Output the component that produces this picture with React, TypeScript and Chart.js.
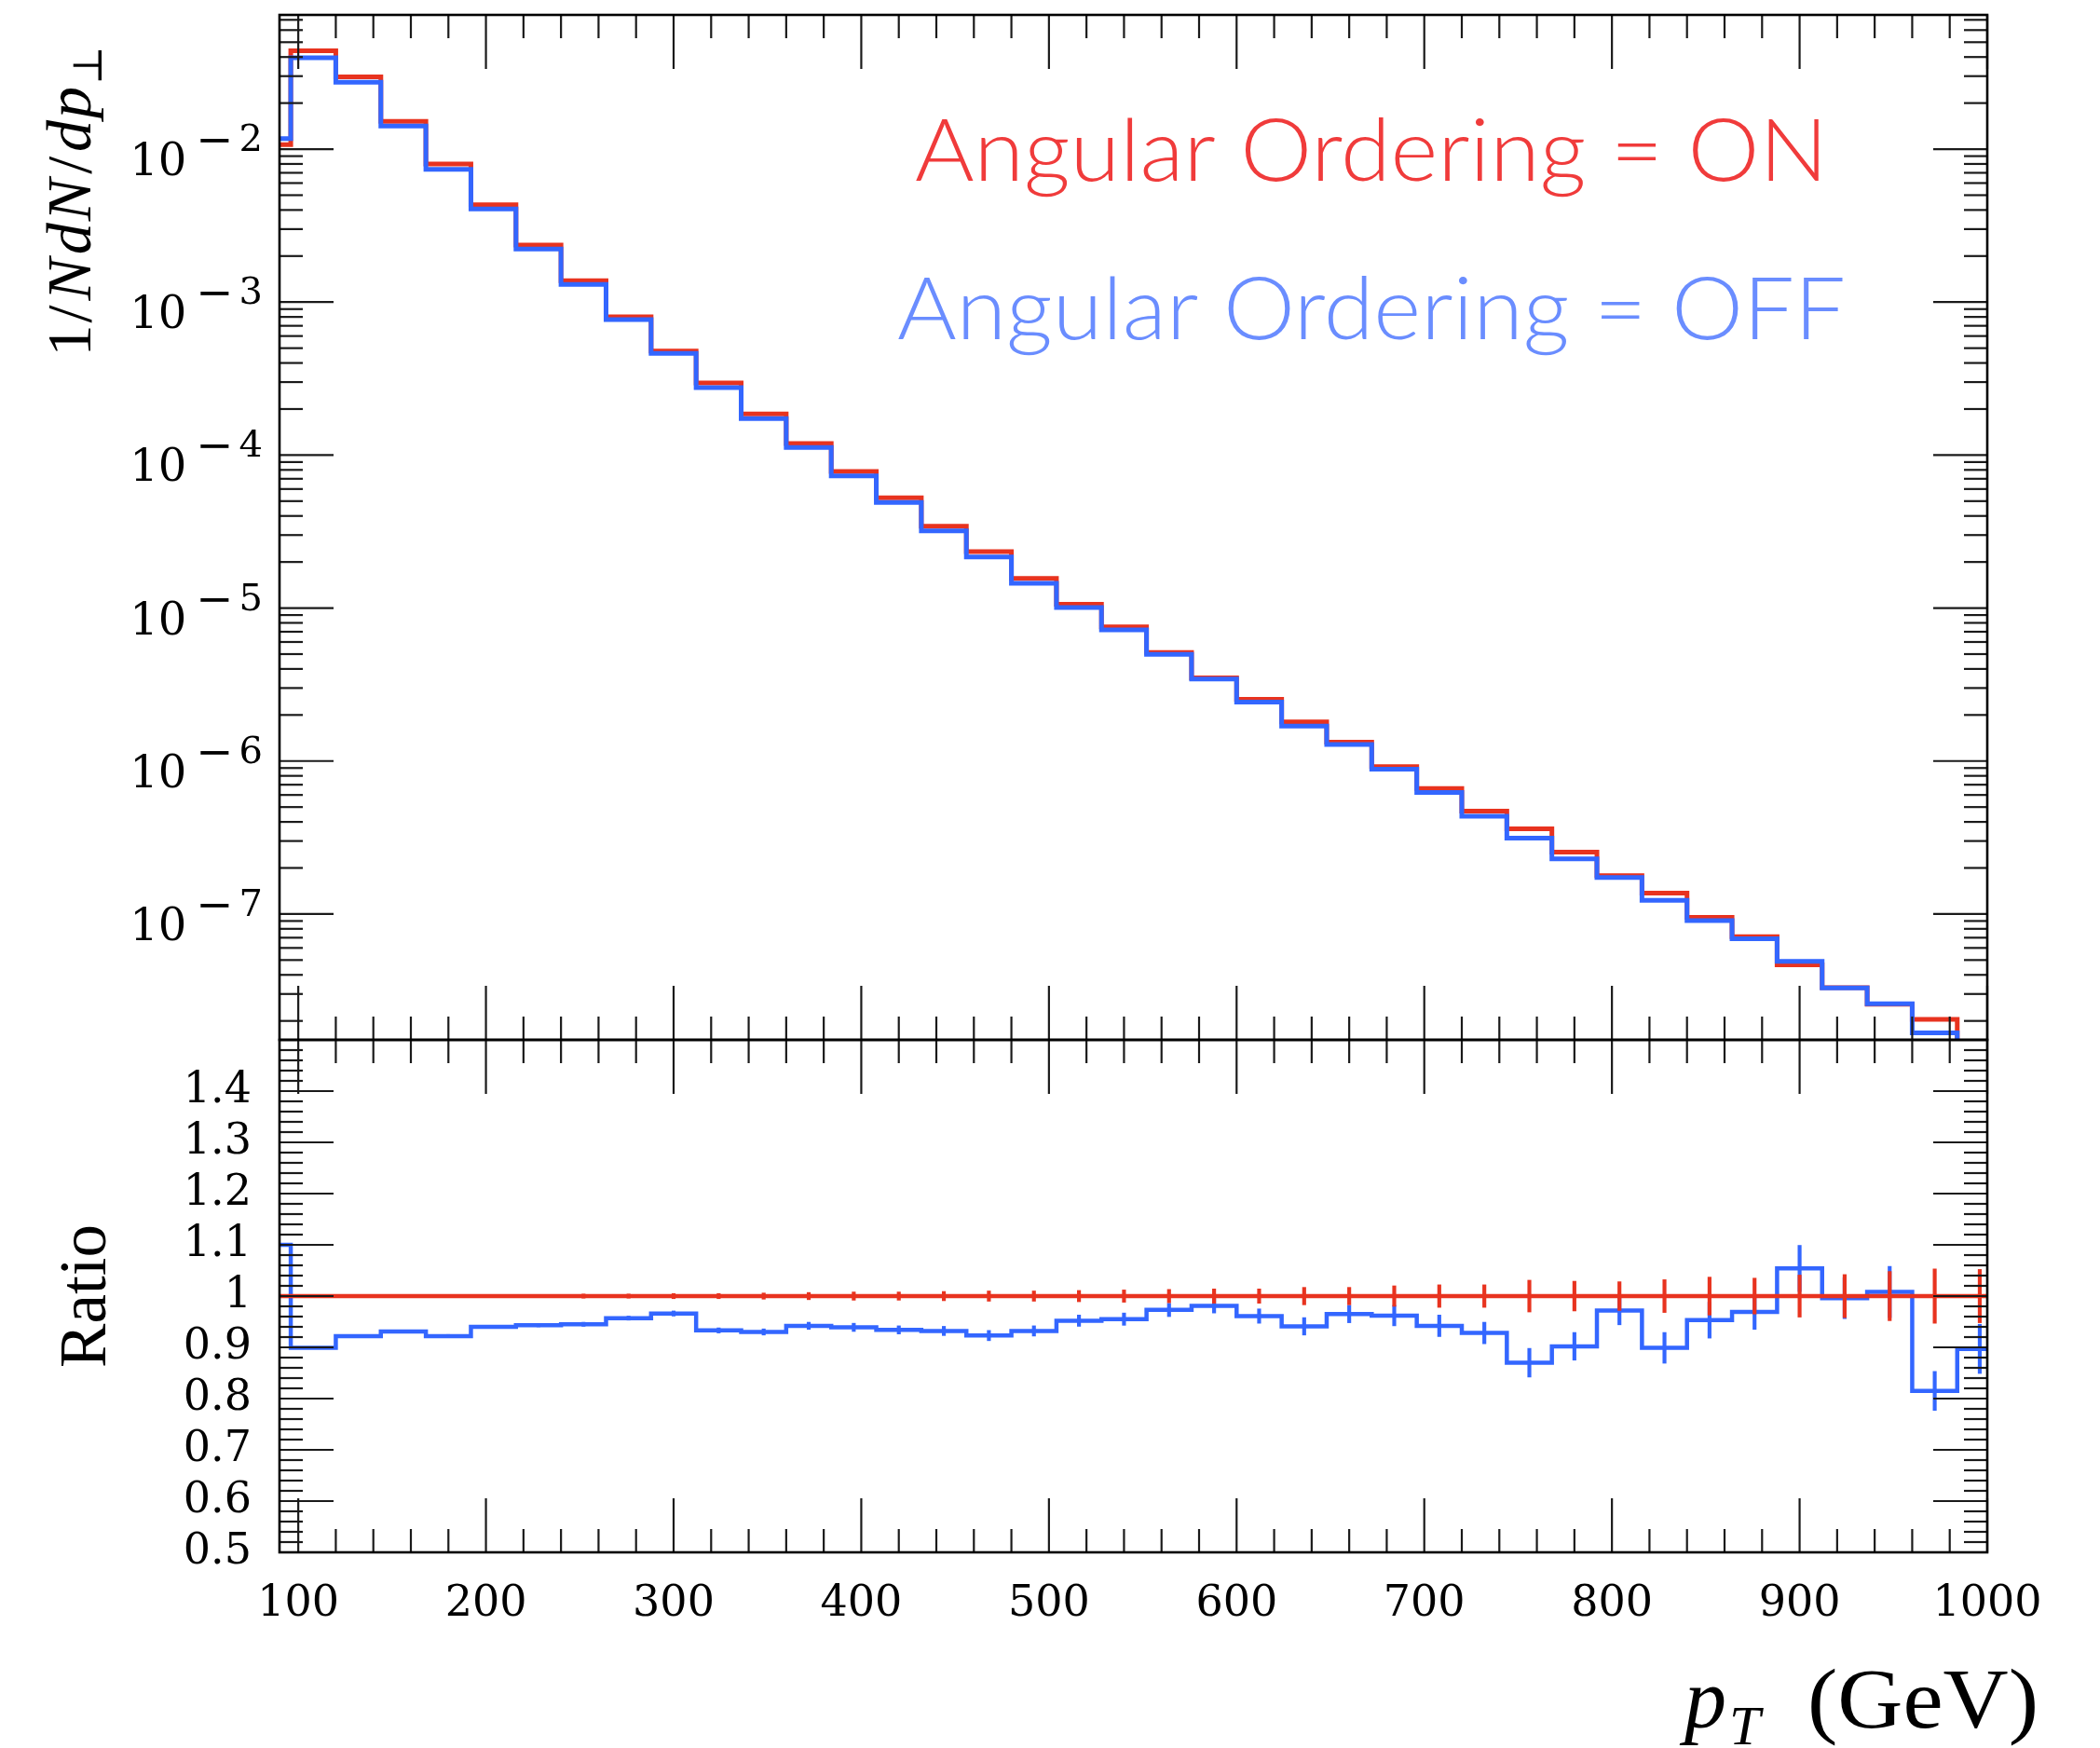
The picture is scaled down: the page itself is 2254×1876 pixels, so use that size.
import React, { useEffect, useRef } from "react";
import { Chart, registerables } from "chart.js";

Chart.register(...registerables);

// ---------------- data ----------------
const binEdges = [
  72, 96, 120, 144, 168, 192, 216, 240, 264, 288, 312, 336, 360, 384, 408, 432, 456, 480, 504, 528,
  552, 576, 600, 624, 648, 672, 696, 720, 744, 768, 792, 816, 840, 864, 888, 912, 936, 960, 984, 1008,
];

// 1/N dN/dp_T, angular ordering ON (red)
const onValues = [
  0.0107, 0.044, 0.0297, 0.0152, 0.008, 0.00433, 0.00236, 0.00138, 0.000802, 0.000478,
  0.000296, 0.000186, 0.000119, 7.8e-5, 5.25e-5, 3.43e-5, 2.34e-5, 1.56e-5, 1.06e-5, 7.53e-6,
  5.13e-6, 3.5e-6, 2.53e-6, 1.8e-6, 1.33e-6, 9.2e-7, 6.6e-7, 4.7e-7, 3.6e-7, 2.54e-7,
  1.78e-7, 1.37e-7, 9.5e-8, 7.1e-8, 4.65e-8, 3.3e-8, 2.57e-8, 2.05e-8, 1.2e-8,
];

// 1/N dN/dp_T, angular ordering OFF (blue)
const offValues = [
  0.0117, 0.0396, 0.0274, 0.01415, 0.00738, 0.00407, 0.002225, 0.001304, 0.000768, 0.000462,
  0.000276, 0.000173, 0.000112, 7.32e-5, 4.9e-5, 3.2e-5, 2.16e-5, 1.454e-5, 1.009e-5, 7.19e-6,
  4.99e-6, 3.43e-6, 2.43e-6, 1.694e-6, 1.283e-6, 8.85e-7, 6.22e-7, 4.36e-7, 3.13e-7, 2.29e-7,
  1.73e-7, 1.23e-7, 9.05e-8, 6.88e-8, 4.9e-8, 3.29e-8, 2.59e-8, 1.67e-8, 1.08e-8,
];

// ratio panel
const ratioOn = [
  1, 1, 1, 1, 1, 1, 1, 1, 1, 1, 1, 1, 1, 1, 1, 1, 1, 1, 1, 1,
  1, 1, 1, 1, 1, 1, 1, 1, 1, 1, 1, 1, 1, 1, 1, 1, 1, 1, 1,
];
const ratioOnErr = [
  0.001, 0.002, 0.002, 0.002, 0.003, 0.003, 0.003, 0.004, 0.004, 0.005,
  0.005, 0.006, 0.007, 0.008, 0.008, 0.009, 0.01, 0.01, 0.011, 0.012,
  0.013, 0.014, 0.014, 0.017, 0.017, 0.02, 0.022, 0.022, 0.031, 0.029,
  0.028, 0.032, 0.037, 0.035, 0.041, 0.042, 0.048, 0.053, 0.052,
];
const ratioOff = [
  1.1, 0.899, 0.922, 0.931, 0.922, 0.94, 0.943, 0.945, 0.957, 0.966,
  0.933, 0.93, 0.942, 0.939, 0.934, 0.932, 0.923, 0.932, 0.952, 0.955,
  0.973, 0.981, 0.961, 0.941, 0.965, 0.962, 0.942, 0.928, 0.87, 0.902,
  0.972, 0.899, 0.953, 0.969, 1.054, 0.996, 1.008, 0.815, 0.897,
];
const ratioOffErr = [
  0.002, 0.002, 0.002, 0.002, 0.003, 0.003, 0.003, 0.004, 0.004, 0.005,
  0.005, 0.006, 0.007, 0.008, 0.008, 0.009, 0.01, 0.01, 0.011, 0.012,
  0.013, 0.014, 0.014, 0.017, 0.017, 0.02, 0.021, 0.021, 0.028, 0.027,
  0.028, 0.03, 0.035, 0.034, 0.045, 0.04, 0.05, 0.038, 0.048,
];

// ticks / labels
const xMajorTicks = [100, 200, 300, 400, 500, 600, 700, 800, 900, 1000];
const xTickLabels = ["100", "200", "300", "400", "500", "600", "700", "800", "900", "1000"];
const xMinorStep = 20;
const yDecadeExponents = [-2, -3, -4, -5, -6, -7];
const ratioMajorTicks = [0.5, 0.6, 0.7, 0.8, 0.9, 1.0, 1.1, 1.2, 1.3, 1.4];
const ratioTickLabels = ["0.5", "0.6", "0.7", "0.8", "0.9", "1", "1.1", "1.2", "1.3", "1.4"];
const ratioMinorStep = 0.02;

const legendOn = "Angular Ordering = ON";
const legendOff = "Angular Ordering = OFF";

// ---------------- style / layout ----------------
const W = 2254;
const H = 1876;
const PLOT_LEFT = 300;
const PLOT_RIGHT = 2133;
const MAIN_TOP = 16;
const SPLIT = 1116;
const RATIO_BOTTOM = 1666;
const MAIN_H = 1130;
const RATIO_TOP = 1100;
const RATIO_H = H - RATIO_TOP;

const RED = "#e8331f";
const BLUE = "#3366ff";
const RED_TEXT = "#f03b3b";
const BLUE_TEXT = "#6a8dff";
const TICK_FONT = "46px 'DejaVu Serif'";
const SERIF = "'Liberation Serif', 'Times New Roman', serif";

function stepPoints(vals: number[]) {
  const pts = vals.map((v, i) => ({ x: binEdges[i], y: v }));
  pts.push({ x: binEdges[vals.length], y: vals[vals.length - 1] });
  return pts;
}

function errorBars(vals: number[], errs: number[]) {
  return vals.map((v, i) => ({
    x: (binEdges[i] + binEdges[i + 1]) / 2,
    y: [v - errs[i], v + errs[i]],
  }));
}

function seg(ctx: CanvasRenderingContext2D, x1: number, y1: number, x2: number, y2: number) {
  ctx.beginPath();
  ctx.moveTo(x1, y1);
  ctx.lineTo(x2, y2);
  ctx.stroke();
}

const MAJ = 58;
const MIN = 25;

function drawXTicks(chart: any) {
  const ctx = chart.ctx as CanvasRenderingContext2D;
  const { top, bottom } = chart.chartArea;
  const xs = chart.scales.x;
  for (let v = xMajorTicks[0]; v <= xMajorTicks[xMajorTicks.length - 1] + 0.001; v += xMinorStep) {
    const major = xMajorTicks.some((m) => Math.abs(m - v) < 0.001);
    const px = xs.getPixelForValue(v);
    const L = major ? MAJ : MIN;
    seg(ctx, px, bottom, px, bottom - L);
    seg(ctx, px, top, px, top + L);
  }
}

function drawFrame(chart: any) {
  const ctx = chart.ctx as CanvasRenderingContext2D;
  const { left, right, top, bottom } = chart.chartArea;
  ctx.lineWidth = 2.6;
  ctx.strokeStyle = "#000";
  ctx.strokeRect(left, top, right - left, bottom - top);
}

type Piece = { t: string; font: string; dy?: number; gap?: number };

function piecesWidth(ctx: CanvasRenderingContext2D, pieces: Piece[]) {
  let w = 0;
  for (const p of pieces) {
    ctx.font = p.font;
    w += ctx.measureText(p.t).width + (p.gap || 0);
  }
  return w;
}

function drawPieces(ctx: CanvasRenderingContext2D, pieces: Piece[], x0: number, y0: number) {
  let x = x0;
  for (const p of pieces) {
    ctx.font = p.font;
    ctx.fillText(p.t, x, y0 + (p.dy || 0));
    x += ctx.measureText(p.t).width + (p.gap || 0);
  }
}

function drawFitted(ctx: CanvasRenderingContext2D, text: string, font: string, x: number, y: number, width: number) {
  ctx.save();
  ctx.font = font;
  const w = ctx.measureText(text).width;
  ctx.translate(x, y);
  ctx.scale(width / w, 1);
  ctx.textAlign = "left";
  ctx.textBaseline = "alphabetic";
  ctx.fillText(text, 0, 0);
  ctx.restore();
}

const mainDecor = {
  id: "mainDecor",
  afterDatasetsDraw(chart: any) {
    const ctx = chart.ctx as CanvasRenderingContext2D;
    const { left, right } = chart.chartArea;
    const ys = chart.scales.y;
    ctx.save();
    ctx.strokeStyle = "#1a1a1a";
    ctx.lineWidth = 2.2;
    drawXTicks(chart);
    for (let e = -9; e <= 0; e++) {
      for (let k = 1; k <= 9; k++) {
        const v = k * Math.pow(10, e);
        if (v < ys.min || v > ys.max) continue;
        const py = ys.getPixelForValue(v);
        const L = k === 1 ? MAJ : MIN;
        seg(ctx, left, py, left + L, py);
        seg(ctx, right, py, right - L, py);
      }
    }
    drawFrame(chart);

    // y tick labels: 10^{-n}
    ctx.fillStyle = "#000";
    ctx.textAlign = "left";
    ctx.textBaseline = "alphabetic";
    const supFont = "40px 'DejaVu Serif'";
    const minusFont = "48px 'DejaVu Serif'";
    for (const e of yDecadeExponents) {
      const py = ys.getPixelForValue(Math.pow(10, e));
      const pieces: Piece[] = [
        { t: "10", font: "48px 'DejaVu Serif'", gap: 10, dy: 28 },
        { t: "\u2212", font: minusFont, gap: 6, dy: 6 },
        { t: String(-e), font: supFont, dy: 2 },
      ];
      const w = piecesWidth(ctx, pieces);
      drawPieces(ctx, pieces, 282 - w, py);
    }

    // y axis title: 1/N dN/dp_perp (rotated)
    ctx.save();
    ctx.translate(97, 216);
    ctx.rotate(-Math.PI / 2);
    const up = `68px ${SERIF}`;
    const it = `italic 68px ${SERIF}`;
    const title: Piece[] = [
      { t: "1", font: up, gap: 2 },
      { t: "/", font: up, gap: 5 },
      { t: "N", font: it, gap: 4 },
      { t: "d", font: it, gap: 2 },
      { t: "N", font: it, gap: 5 },
      { t: "/", font: up, gap: 5 },
      { t: "d", font: it, gap: 2 },
      { t: "p", font: it, gap: 2 },
      { t: "\u22a5", font: "44px 'DejaVu Serif'", dy: 12 },
    ];
    const tw = piecesWidth(ctx, title);
    drawPieces(ctx, title, -tw / 2, 0);
    ctx.restore();

    // legend texts
    const lf = "300 92px Lato, 'Open Sans', sans-serif";
    ctx.fillStyle = RED_TEXT;
    drawFitted(ctx, legendOn, lf, 982, 194, 980);
    ctx.fillStyle = BLUE_TEXT;
    drawFitted(ctx, legendOff, lf, 963, 364, 1018);
    ctx.restore();
  },
};

const ratioDecor = {
  id: "ratioDecor",
  afterDatasetsDraw(chart: any) {
    const ctx = chart.ctx as CanvasRenderingContext2D;
    const { left, right, bottom } = chart.chartArea;
    const ys = chart.scales.y;
    const xs = chart.scales.x;
    ctx.save();
    ctx.strokeStyle = "#1a1a1a";
    ctx.lineWidth = 2.2;
    drawXTicks(chart);
    for (let i = 0; i * ratioMinorStep <= 1.0001; i++) {
      const v = 0.5 + i * ratioMinorStep;
      if (v <= ys.min + 1e-6 || v >= ys.max - 1e-6) continue;
      const major = ratioMajorTicks.some((m) => Math.abs(m - v) < 1e-6);
      const py = ys.getPixelForValue(v);
      const L = major ? MAJ : MIN;
      seg(ctx, left, py, left + L, py);
      seg(ctx, right, py, right - L, py);
    }
    drawFrame(chart);

    ctx.fillStyle = "#000";
    // ratio tick labels
    ctx.font = TICK_FONT;
    ctx.textAlign = "right";
    ctx.textBaseline = "middle";
    ratioMajorTicks.forEach((v, i) => {
      ctx.fillText(ratioTickLabels[i], 270, ys.getPixelForValue(v));
    });

    // x tick labels
    ctx.textAlign = "center";
    ctx.textBaseline = "alphabetic";
    xMajorTicks.forEach((v, i) => {
      ctx.fillText(xTickLabels[i], xs.getPixelForValue(v), bottom + 68);
    });

    // "Ratio" title
    ctx.save();
    ctx.translate(113, ys.getPixelForValue(1.0));
    ctx.rotate(-Math.PI / 2);
    ctx.font = `71px ${SERIF}`;
    ctx.textAlign = "center";
    ctx.fillText("Ratio", 0, 0);
    ctx.restore();

    // x axis title: p_T (GeV)
    ctx.textAlign = "left";
    const base = bottom + 188;
    ctx.font = `italic 90px ${SERIF}`;
    ctx.fillText("p", 1808, base);
    ctx.font = `italic 60px ${SERIF}`;
    ctx.fillText("T", 1856, base + 18);
    drawFitted(ctx, "(GeV)", `90px ${SERIF}`, 1940, base, 248);
    ctx.restore();
  },
};

const commonOptions = {
  animation: false as const,
  responsive: false,
  devicePixelRatio: 1,
  events: [] as any[],
  plugins: { legend: { display: false }, tooltip: { enabled: false }, title: { display: false } },
};

export default function App() {
  const mainRef = useRef<HTMLCanvasElement>(null);
  const ratioRef = useRef<HTMLCanvasElement>(null);

  useEffect(() => {
    const main = new Chart(mainRef.current as HTMLCanvasElement, {
      type: "line",
      data: {
        datasets: [
          {
            label: legendOff,
            data: stepPoints(offValues),
            borderColor: BLUE,
            borderWidth: 5,
            stepped: "before",
            pointRadius: 0,
            fill: false,
            clip: 0,
            borderJoinStyle: "miter",
          },
          {
            label: legendOn,
            data: stepPoints(onValues),
            borderColor: RED,
            borderWidth: 5,
            stepped: "before",
            pointRadius: 0,
            fill: false,
            clip: 0,
            borderJoinStyle: "miter",
          },
        ],
      } as any,
      options: {
        ...commonOptions,
        layout: { padding: { left: PLOT_LEFT, right: W - PLOT_RIGHT, top: MAIN_TOP, bottom: MAIN_H - SPLIT } },
        scales: {
          x: { type: "linear", min: 90, max: 1000, display: false },
          y: { type: "logarithmic", min: 1.504e-8, max: 0.0754, display: false },
        },
      } as any,
      plugins: [mainDecor],
    });

    const ratio = new Chart(ratioRef.current as HTMLCanvasElement, {
      type: "line",
      data: {
        datasets: [
          {
            type: "line",
            label: legendOn,
            data: stepPoints(ratioOn),
            borderColor: RED,
            borderWidth: 4.5,
            stepped: "before",
            pointRadius: 0,
            fill: false,
            clip: 0,
          },
          {
            type: "bar",
            label: legendOn + " err",
            data: errorBars(ratioOn, ratioOnErr),
            backgroundColor: RED,
            borderWidth: 0,
            barThickness: 3.5,
            grouped: false,
            clip: 0,
          },
          {
            type: "line",
            label: legendOff,
            data: stepPoints(ratioOff),
            borderColor: BLUE,
            borderWidth: 4.5,
            stepped: "before",
            pointRadius: 0,
            fill: false,
            clip: 0,
            borderJoinStyle: "miter",
          },
          {
            type: "bar",
            label: legendOff + " err",
            data: errorBars(ratioOff, ratioOffErr),
            backgroundColor: BLUE,
            borderWidth: 0,
            barThickness: 3.5,
            grouped: false,
            clip: 0,
          },
        ],
      } as any,
      options: {
        ...commonOptions,
        layout: {
          padding: { left: PLOT_LEFT, right: W - PLOT_RIGHT, top: SPLIT - RATIO_TOP, bottom: RATIO_H - (RATIO_BOTTOM - RATIO_TOP) },
        },
        scales: {
          x: { type: "linear", min: 90, max: 1000, display: false, offset: false },
          y: { type: "linear", min: 0.5, max: 1.5, display: false },
        },
      } as any,
      plugins: [ratioDecor],
    });

    return () => {
      main.destroy();
      ratio.destroy();
    };
  }, []);

  return (
    <div style={{ position: "absolute", left: 0, top: 0, width: W, height: H, background: "#fff" }}>
      <canvas
        ref={mainRef}
        width={W}
        height={MAIN_H}
        style={{ position: "absolute", left: 0, top: 0, width: W, height: MAIN_H }}
      />
      <canvas
        ref={ratioRef}
        width={W}
        height={RATIO_H}
        style={{ position: "absolute", left: 0, top: RATIO_TOP, width: W, height: RATIO_H }}
      />
    </div>
  );
}
